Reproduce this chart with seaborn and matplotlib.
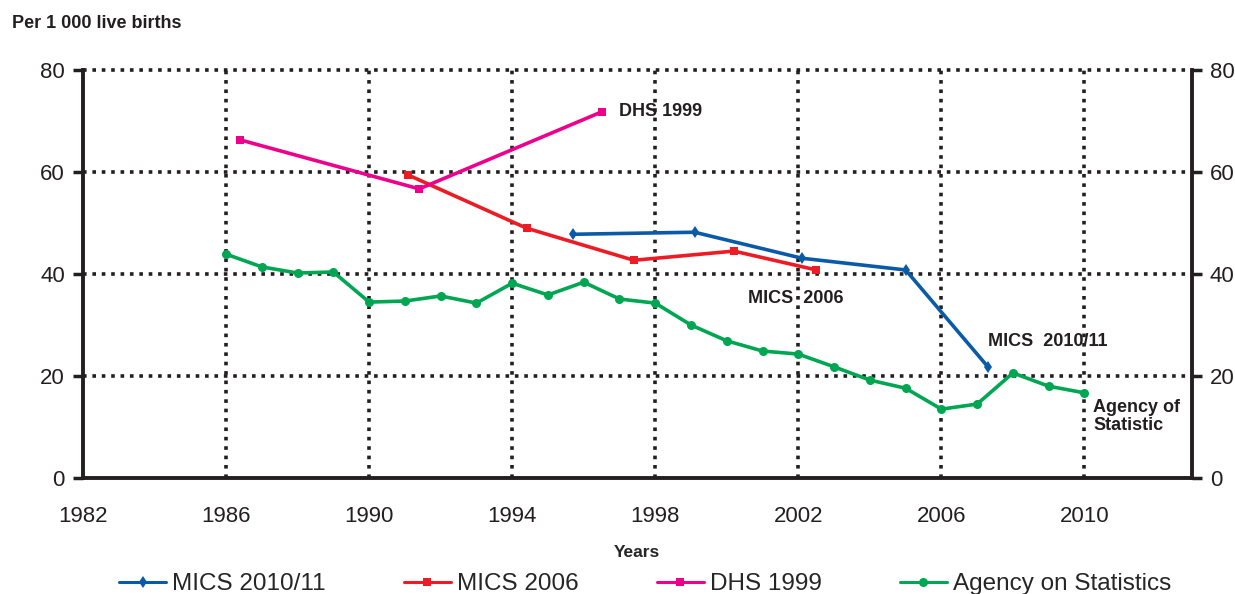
import matplotlib
matplotlib.use("Agg")
import matplotlib.pyplot as plt
import seaborn as sns
import pandas as pd

# Infant mortality rate, per 1 000 live births
mics_2010_years = [1995.7, 1999.1, 2002.1, 2005.0, 2007.3]
mics_2010_vals = [47.8, 48.2, 43.1, 40.8, 21.8]

mics_2006_years = [1991.1, 1994.4, 1997.4, 2000.2, 2002.5]
mics_2006_vals = [59.4, 49.0, 42.7, 44.5, 40.8]

dhs_1999_years = [1986.4, 1991.4, 1996.5]
dhs_1999_vals = [66.3, 56.7, 71.8]

agency_years = list(range(1986, 2011))
agency_vals = [43.9, 41.4, 40.2, 40.4, 34.5, 34.7, 35.7, 34.3, 38.2, 35.9,
               38.4, 35.1, 34.3, 30.0, 26.9, 24.9, 24.3, 21.8, 19.2, 17.6,
               13.5, 14.5, 20.6, 18.0, 16.7]

x_ticks = [1982, 1986, 1990, 1994, 1998, 2002, 2006, 2010]
y_ticks = [0, 20, 40, 60, 80]

sns.set_style("white")
plt.rcParams['font.family'] = ['Liberation Sans', 'DejaVu Sans']

fig = plt.figure(figsize=(12.35, 5.94), dpi=100)
ax = fig.add_axes([0.0672, 0.1953, 0.8978, 0.6867])

dot = (0, (1, 1.6))
for y in y_ticks[1:]:
    ax.axhline(y, color='#231f20', lw=2.6, ls=dot, zorder=1, clip_on=False)
for x in x_ticks[1:]:
    ax.axvline(x, color='#231f20', lw=2.6, ls=dot, zorder=1)

series = [
    ("MICS 2010/11", mics_2010_years, mics_2010_vals, '#0a5aa8', 'd', 6),
    ("MICS 2006", mics_2006_years, mics_2006_vals, '#ed1c24', 's', 6),
    ("DHS 1999", dhs_1999_years, dhs_1999_vals, '#ec008c', 's', 5.5),
    ("Agency on Statistics", agency_years, agency_vals, '#00a651', 'o', 6.5),
]
for name, xs, ys, col, mk, ms in series:
    df = pd.DataFrame({'year': xs, 'rate': ys})
    sns.lineplot(data=df, x='year', y='rate', ax=ax, color=col, marker=mk,
                 markersize=ms, markeredgewidth=0, lw=2.6, label=name, zorder=3)

ax.set_xlim(1982, 2013)
ax.set_ylim(0, 80)
ax.set_xticks(x_ticks)
ax.set_yticks(y_ticks)
ax.tick_params(axis='both', labelsize=16, colors='#231f20', width=2.5)
ax.tick_params(axis='y', direction='out', length=7, pad=6)
ax.tick_params(axis='x', direction='inout', length=16, pad=12)
for s in ['left', 'bottom', 'right']:
    ax.spines[s].set_linewidth(2.8)
    ax.spines[s].set_color('#231f20')
ax.spines['top'].set_visible(False)
ax.set_xlabel("Years", fontsize=12.5, fontweight='bold', labelpad=13)
ax.set_ylabel("")

ax2 = ax.twinx()
ax2.set_ylim(0, 80)
ax2.set_yticks(y_ticks)
ax2.tick_params(axis='y', labelsize=16, colors='#231f20', width=2.5,
                direction='out', length=7, pad=6)
for s in ax2.spines.values():
    s.set_visible(False)

fig.text(0.01, 0.96, "Per 1 000 live births", fontsize=13, fontweight='bold',
         color='#231f20', va='center')

lbl = dict(fontsize=13, fontweight='bold', color='#231f20', va='center')
ax.text(1997.0, 71.8, "DHS 1999", **lbl)
ax.text(2000.6, 35.3, "MICS  2006", **lbl)
ax.text(2007.3, 26.7, "MICS  2010/11", **lbl)
ax.text(2010.25, 12.0, "Agency of\nStatistic", linespacing=1.1, **lbl)

leg = ax.legend(loc='center', bbox_to_anchor=(0.507, -0.26), ncol=4,
                frameon=False, fontsize=17.5, handlelength=1.95,
                columnspacing=3.2, handletextpad=0.25, borderaxespad=0)
for h in leg.get_lines():
    h.set_linewidth(2.2)

fig.savefig("out.png", dpi=100)
